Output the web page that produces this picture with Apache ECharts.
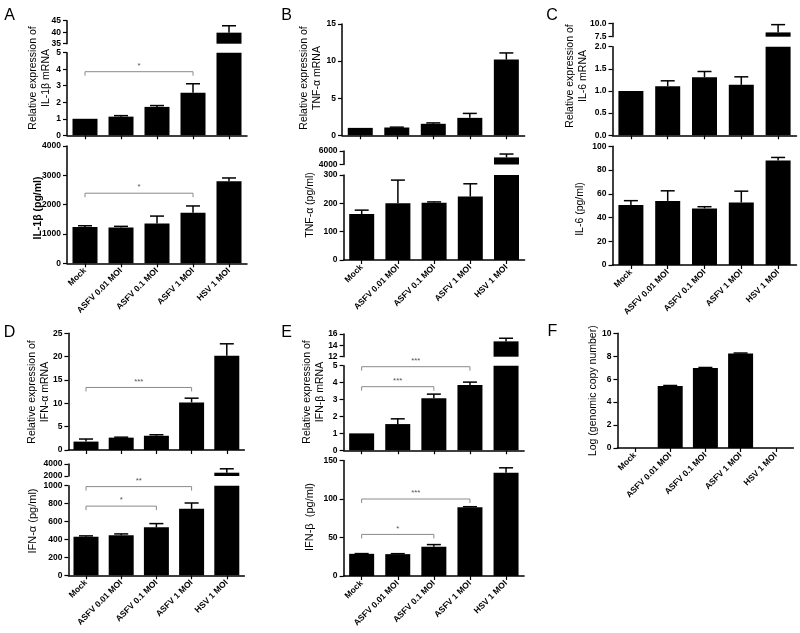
<!DOCTYPE html>
<html><head><meta charset="utf-8">
<script src="https://cdn.jsdelivr.net/npm/echarts@6/dist/echarts.min.js"></script>
<style>html,body{margin:0;padding:0;background:#fff}#c{width:800px;height:633px}</style>
</head><body><div id="c"></div>
<script>
const categories = ['Mock', 'ASFV 0.01 MOI', 'ASFV 0.1 MOI', 'ASFV 1 MOI', 'HSV 1 MOI'];

// Panel A: IL-1β
const il1bMrna = [1.0, 1.13, 1.72, 2.57, 39.8];
const il1bMrnaErr = [0, 0.06, 0.08, 0.55, 3.0];
const il1bProt = [1240, 1225, 1360, 1725, 2800];
const il1bProtErr = [40, 35, 250, 230, 110];
// Panel B: TNF-α
const tnfMrna = [1.0, 1.05, 1.55, 2.35, 10.2];
const tnfMrnaErr = [0, 0.05, 0.12, 0.6, 0.9];
const tnfProt = [162, 200, 202, 224, 5050];
const tnfProtErr = [14, 82, 3, 45, 500];
// Panel C: IL-6
const il6Mrna = [1.0, 1.11, 1.31, 1.14, 8.3];
const il6MrnaErr = [0, 0.12, 0.13, 0.18, 1.45];
const il6Prot = [50.5, 54, 47.7, 52.7, 88];
const il6ProtErr = [3.7, 8.5, 1.4, 9.5, 2.6];
// Panel D: IFN-α
const ifnaMrna = [1.8, 2.65, 3.05, 10.2, 20.2];
const ifnaMrnaErr = [0.55, 0.1, 0.22, 0.9, 2.55];
const ifnaProt = [430, 448, 535, 742, 2550];
const ifnaProtErr = [10, 14, 42, 65, 650];
// Panel E: IFN-β
const ifnbMrna = [1.0, 1.55, 3.08, 3.86, 14.7];
const ifnbMrnaErr = [0, 0.31, 0.24, 0.17, 0.55];
const ifnbProt = [28.8, 28.4, 38, 89.4, 134];
const ifnbProtErr = [0.3, 0.6, 2.8, 0.6, 6.5];
// Panel F: log genomic copy number
const genomeLog = [0, 5.41, 6.97, 8.24, 0];
const genomeLogErr = [0, 0.04, 0.05, 0.04, 0];

// Significance brackets: [fromCategory, toCategory, yLevel]
const brA1 = [[0, 3, 3.85]];       const brA1Labels = ['*'];
const brA2 = [[0, 3, 2390]];       const brA2Labels = ['*'];
const brD1 = [[0, 3, 13.4]];       const brD1Labels = ['***'];
const brD2 = [[0, 3, 990], [0, 2, 772]]; const brD2Labels = ['**', '*'];
const brE1 = [[0, 3, 4.94], [0, 2, 3.76]]; const brE1Labels = ['***', '***'];
const brE2 = [[0, 3, 100], [0, 2, 54]];    const brE2Labels = ['***', '*'];

const FONT = '"Liberation Sans", Arial, sans-serif';
const option = { animation: false, grid: [], xAxis: [], yAxis: [], series: [], graphic: [] };

function errRender(params, api) {
  const i = api.value(0), v = api.value(1), e = api.value(2);
  if (!(e > 0)) return null;
  const cs = params.coordSys;
  const top = cs.y, bottom = cs.y + cs.height;
  const p0 = api.coord([i, v]), p1 = api.coord([i, v + e]);
  if (p0[1] < top - 0.5) return null;
  if (p1[1] > bottom) return null;
  const y0 = Math.min(p0[1], bottom), y1 = Math.max(p1[1], top);
  const x = p0[0];
  const ch = [{ type: 'line', shape: { x1: x, y1: y0, x2: x, y2: y1 }, style: { stroke: '#000', lineWidth: 1.5 } }];
  if (p1[1] >= top - 0.5) ch.push({ type: 'line', shape: { x1: x - 7, y1: y1, x2: x + 7, y2: y1 }, style: { stroke: '#000', lineWidth: 1.5 } });
  return { type: 'group', children: ch };
}
function makeBr(labels) {
  return function (params, api) {
    const a = api.value(0), b = api.value(1), y = api.value(2);
    const p = api.coord([a, y]), q = api.coord([b, y]);
    return { type: 'group', children: [
      { type: 'polyline', shape: { points: [[p[0], p[1] + 4], [p[0], p[1]], [q[0], q[1]], [q[0], q[1] + 4]] }, style: { stroke: '#8a8a8a', lineWidth: 1, fill: 'none' } },
      { type: 'text', style: { text: labels[params.dataIndex], x: (p[0] + q[0]) / 2, y: p[1] - 2, align: 'center', verticalAlign: 'bottom', font: '8px ' + FONT, fill: '#555' } }
    ] };
  };
}

const plain = v => String(v);
function seg(o) {
  const k = option.grid.length;
  option.grid.push({ left: o.x, top: o.y, width: o.w, height: o.h, containLabel: false });
  option.xAxis.push({
    type: 'category', gridIndex: k, data: categories, show: !!o.xline,
    axisLine: { show: true, lineStyle: { color: '#000', width: 1.5 } },
    axisTick: { show: true, alignWithLabel: true, length: 4, lineStyle: { color: '#000', width: 1.2 } },
    axisLabel: { show: !!o.labels, rotate: 45, margin: 6, interval: 0, color: '#000', fontSize: 8.5, fontWeight: 'bold', fontFamily: FONT },
    splitLine: { show: false }
  });
  option.yAxis.push({
    type: 'value', gridIndex: k, min: o.min, max: o.max, interval: o.step,
    axisLine: { show: true, lineStyle: { color: '#000', width: 1.5 } },
    axisTick: { show: true, length: 4, lineStyle: { color: '#000', width: 1.2 } },
    axisLabel: { color: '#000', fontSize: 8.5, fontWeight: 'bold', fontFamily: FONT, margin: 6, formatter: o.fmt || plain },
    splitLine: { show: false }
  });
  option.series.push({ type: 'bar', xAxisIndex: k, yAxisIndex: k, data: o.vals, barWidth: 25, clip: true, silent: true, itemStyle: { color: '#000' } });
  option.series.push({ type: 'custom', xAxisIndex: k, yAxisIndex: k, silent: true, encode: { x: 0, y: 1 },
    data: o.vals.map((v, i) => [i, v, o.errs[i]]), renderItem: errRender });
  if (o.br) option.series.push({ type: 'custom', xAxisIndex: k, yAxisIndex: k, silent: true, encode: { x: [0, 1], y: 2 },
    data: o.br, renderItem: makeBr(o.brLabels) });
}
const f1 = v => v.toFixed(1);

// A
seg({ x: 67, w: 180, y: 20.7, h: 23, min: 35, max: 45, step: 5, vals: il1bMrna, errs: il1bMrnaErr });
seg({ x: 67, w: 180, y: 52.7, h: 82.6, min: 0, max: 5, step: 1, vals: il1bMrna, errs: il1bMrnaErr, xline: true, br: brA1, brLabels: brA1Labels });
seg({ x: 67, w: 180, y: 146, h: 117.3, min: 0, max: 4000, step: 1000, vals: il1bProt, errs: il1bProtErr, xline: true, labels: true, br: brA2, brLabels: brA2Labels });
// B
seg({ x: 342, w: 182.6, y: 24, h: 111.3, min: 0, max: 15, step: 5, vals: tnfMrna, errs: tnfMrnaErr, xline: true });
seg({ x: 343.6, w: 181, y: 151, h: 13.5, min: 4000, max: 6000, step: 2000, vals: tnfProt, errs: tnfProtErr });
seg({ x: 343.6, w: 181, y: 175, h: 85, min: 0, max: 300, step: 100, vals: tnfProt, errs: tnfProtErr, xline: true, labels: true });
// C
seg({ x: 612.5, w: 184, y: 23.3, h: 13.4, min: 7.5, max: 10, step: 2.5, fmt: f1, vals: il6Mrna, errs: il6MrnaErr });
seg({ x: 612.5, w: 184, y: 46.7, h: 88.6, min: 0, max: 2, step: 0.5, fmt: f1, vals: il6Mrna, errs: il6MrnaErr, xline: true });
seg({ x: 612.5, w: 184, y: 146.3, h: 118.7, min: 0, max: 100, step: 20, vals: il6Prot, errs: il6ProtErr, xline: true, labels: true });
// D
seg({ x: 68.4, w: 176, y: 333.3, h: 116.7, min: 0, max: 25, step: 5, vals: ifnaMrna, errs: ifnaMrnaErr, xline: true, br: brD1, brLabels: brD1Labels });
seg({ x: 68.4, w: 176, y: 464, h: 12, min: 2000, max: 4000, step: 2000, vals: ifnaProt, errs: ifnaProtErr });
seg({ x: 68.4, w: 176, y: 485.7, h: 89.6, min: 0, max: 1000, step: 200, vals: ifnaProt, errs: ifnaProtErr, xline: true, labels: true, br: brD2, brLabels: brD2Labels });
// E
seg({ x: 343.6, w: 180.5, y: 334, h: 22.7, min: 12, max: 16, step: 2, vals: ifnbMrna, errs: ifnbMrnaErr });
seg({ x: 343.6, w: 180.5, y: 365.7, h: 84.6, min: 0, max: 5, step: 1, vals: ifnbMrna, errs: ifnbMrnaErr, xline: true, br: brE1, brLabels: brE1Labels });
seg({ x: 343.6, w: 180.5, y: 460.5, h: 115.5, min: 0, max: 150, step: 50, vals: ifnbProt, errs: ifnbProtErr, xline: true, labels: true, br: brE2, brLabels: brE2Labels });
// F
seg({ x: 617.4, w: 176, y: 333.3, h: 114.7, min: 0, max: 10, step: 2, vals: genomeLog, errs: genomeLogErr, xline: true, labels: true });

function vtitle(text, x, y, size, weight) {
  option.graphic.push({ type: 'text', x: x, y: y, rotation: Math.PI / 2, silent: true,
    style: { text: text, font: (weight || 'normal') + ' ' + (size || 10.5) + 'px ' + FONT, align: 'center', verticalAlign: 'middle', lineHeight: 13, fill: '#000' } });
}
function letter(t, x, y) {
  option.graphic.push({ type: 'text', x: x, y: y, silent: true,
    style: { text: t, font: '16px ' + FONT, align: 'center', verticalAlign: 'middle', fill: '#000' } });
}
vtitle('Relative expression of\nIL-1β mRNA', 39.5, 78);
vtitle('IL-1β (pg/ml)', 38, 208, 10.5, 'bold');
vtitle('Relative expression of\nTNF-α mRNA', 310.5, 78);
vtitle('TNF-α (pg/ml)', 310, 205);
vtitle('Relative expression of\nIL-6 mRNA', 577, 76);
vtitle('IL-6 (pg/ml)', 580, 209);
vtitle('Relative expression of\nIFN-α mRNA', 38.3, 392);
vtitle('IFN-α (pg/ml)', 33.3, 521, 11);
vtitle('Relative expression of\nIFN-β mRNA', 313.8, 392);
vtitle('IFN-β  (pg/ml)', 310, 517, 11);
vtitle('Log (genomic copy number)', 593.3, 390.7);
letter('A', 9.5, 15.5);
letter('B', 286.7, 15.5);
letter('C', 552, 15.5);
letter('D', 9.5, 332.5);
letter('E', 286.7, 333);
letter('F', 552.5, 331.5);

const chart = echarts.init(document.getElementById('c'), null, { renderer: 'canvas' });
chart.setOption(option);
</script>
</body></html>
